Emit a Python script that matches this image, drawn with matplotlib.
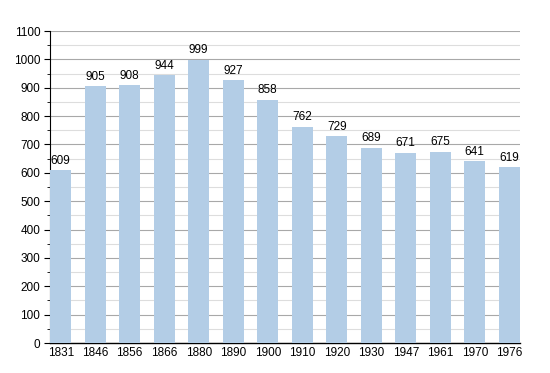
import matplotlib.pyplot as plt
import numpy as np

plt.rcParams["font.family"] = ["Liberation Sans", "DejaVu Sans"]

years = ["1831", "1846", "1856", "1866", "1880", "1890", "1900",
         "1910", "1920", "1930", "1947", "1961", "1970", "1976"]
population = [609, 905, 908, 944, 999, 927, 858, 762, 729, 689, 671, 675, 641, 619]

bar_color = "#b3cde6"
width = 0.62

fig = plt.figure(figsize=(5.5, 3.73), dpi=100)
ax = fig.add_axes([50 / 550, 30 / 373, 470 / 550, 312 / 373])

x = np.arange(len(years))
ax.bar(x, population, width=width, color=bar_color, zorder=3)
for xi, v in zip(x, population):
    ax.text(xi, v + 12, str(v), ha="center", va="bottom", fontsize=8.5, zorder=4)

ax.set_xlim(-width / 2, len(years) - 1 + width / 2)
ax.set_ylim(0, 1100)
ax.set_yticks(np.arange(0, 1101, 100))
ax.set_yticks(np.arange(50, 1100, 100), minor=True)
ax.set_xticks(x)
ax.set_xticklabels(years)
ax.tick_params(axis="x", length=0, labelsize=8.5, pad=3)
ax.tick_params(axis="y", which="major", length=4, labelsize=8.5, pad=3)
ax.tick_params(axis="y", which="minor", length=2.5)
ax.grid(axis="y", which="major", color="#a8a8a8", linewidth=0.8, zorder=0)
ax.grid(axis="y", which="minor", color="#dddddd", linewidth=0.8, zorder=0)
for side in ("top", "right"):
    ax.spines[side].set_visible(False)
ax.spines["left"].set_linewidth(0.8)
ax.spines["bottom"].set_linewidth(1.0)

fig.savefig("out.png", dpi=100)
